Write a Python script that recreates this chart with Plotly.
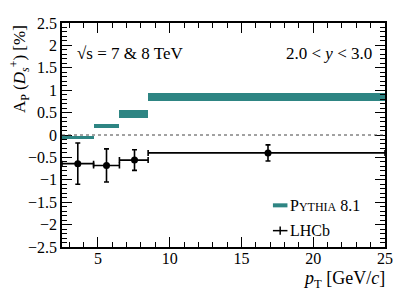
import plotly.graph_objects as go

# LHCb data (pT bins, GeV/c) and A_P values [%]
bin_lo = [2.5, 4.7, 6.5, 8.5]
bin_hi = [4.7, 6.5, 8.5, 25.0]
lhcb_x = [3.6, 5.6, 7.55, 16.85]
lhcb_y = [-0.64, -0.68, -0.56, -0.40]
lhcb_err = [0.46, 0.37, 0.23, 0.18]

# PYTHIA 8.1 predictions (central value and half-width of band)
pythia_y = [-0.05, 0.20, 0.47, 0.84]
pythia_err = [0.02, 0.05, 0.085, 0.09]

TEAL = "#2e8583"
FONT = "Liberation Serif, Times New Roman, serif"

centers = [(a + b) / 2 for a, b in zip(bin_lo, bin_hi)]
widths = [b - a for a, b in zip(bin_lo, bin_hi)]
ex_minus = [x - a for x, a in zip(lhcb_x, bin_lo)]
ex_plus = [b - x for x, b in zip(lhcb_x, bin_hi)]

fig = go.Figure()

fig.add_trace(go.Bar(
    x=centers, width=widths,
    base=[v - e for v, e in zip(pythia_y, pythia_err)],
    y=[2 * e for e in pythia_err],
    marker=dict(color=TEAL, line=dict(width=0)),
    showlegend=False, hoverinfo="skip",
))

fig.add_trace(go.Scatter(
    x=lhcb_x, y=lhcb_y, mode="markers",
    marker=dict(color="black", size=7),
    error_y=dict(type="data", array=lhcb_err, color="black", thickness=1.6, width=2.5),
    error_x=dict(type="data", array=ex_plus, arrayminus=ex_minus, symmetric=False,
                 color="black", thickness=1.6, width=3),
    showlegend=False,
))

# zero line
fig.add_shape(type="line", xref="paper", x0=0, x1=1, yref="y", y0=0, y1=0,
              line=dict(color="#444", width=1, dash="dot"))

axis_common = dict(
    showline=True, linecolor="black", linewidth=1.5, mirror="allticks",
    ticks="inside", ticklen=10, tickwidth=1.2, tickcolor="black",
    showgrid=False, zeroline=False,
    tickfont=dict(family=FONT, size=16, color="black"),
)

fig.update_xaxes(range=[2.5, 25], tickvals=[5, 10, 15, 20, 25], ticklabelstandoff=-4,
                 **axis_common,
                 minor=dict(ticks="inside", ticklen=5, tickwidth=1, tickcolor="black", dtick=1))
fig.update_yaxes(range=[-2.5, 2.5], dtick=0.5, tickformat="~g", **axis_common,
                 minor=dict(ticks="inside", ticklen=5, tickwidth=1, tickcolor="black", dtick=0.1))

ann = []
ann.append(dict(text="√s = 7 &amp; 8 TeV", x=0.04, y=0.865, xref="paper", yref="paper",
                xanchor="left", yanchor="middle", showarrow=False,
                font=dict(family=FONT, size=17, color="black")))
ann.append(dict(text="2.0 &lt; <i>y</i> &lt; 3.0", x=0.965, y=0.865, xref="paper", yref="paper",
                xanchor="right", yanchor="middle", showarrow=False,
                font=dict(family=FONT, size=17, color="black")))
ann.append(dict(text="<i>p</i><sub>T</sub> [GeV/<i>c</i>]", x=1.005, y=-0.145, xref="paper", yref="paper",
                xanchor="right", yanchor="middle", showarrow=False,
                font=dict(family=FONT, size=18, color="black")))
ann.append(dict(text="A<sub>P</sub> (<i>D</i><sub><i>s</i></sub><sup>+</sup>) [%]", x=-0.133, y=1.0,
                xref="paper", yref="paper", textangle=-90,
                xanchor="center", yanchor="top", showarrow=False,
                font=dict(family=FONT, size=17, color="black")))
# legend texts
ann.append(dict(text="P<span style='font-size:12px'>YTHIA</span> 8.1", x=0.70, y=0.185,
                xref="paper", yref="paper", xanchor="left", yanchor="middle", showarrow=False,
                font=dict(family=FONT, size=16, color="black")))
ann.append(dict(text="LHCb", x=0.70, y=0.073,
                xref="paper", yref="paper", xanchor="left", yanchor="middle", showarrow=False,
                font=dict(family=FONT, size=16, color="black")))
fig.update_layout(annotations=ann)

# legend symbols
fig.add_shape(type="rect", xref="paper", yref="paper", x0=0.653, x1=0.698, y0=0.177, y1=0.195,
              fillcolor=TEAL, line=dict(width=0))
fig.add_shape(type="line", xref="paper", yref="paper", x0=0.653, x1=0.698, y0=0.073, y1=0.073,
              line=dict(color="black", width=1.5))
fig.add_shape(type="line", xref="paper", yref="paper", x0=0.6755, x1=0.6755, y0=0.055, y1=0.091,
              line=dict(color="black", width=1.5))

# the page body adds an 8px margin; size the figure so the plot area lands at
# x 62..385, y 15..247 of the 407x295 window
fig.update_layout(
    width=399, height=287,
    margin=dict(l=54, r=22, t=7, b=48),
    plot_bgcolor="white", paper_bgcolor="white",
    bargap=0, showlegend=False,
    font=dict(family=FONT, color="black"),
)

fig.write_html("out.html")
